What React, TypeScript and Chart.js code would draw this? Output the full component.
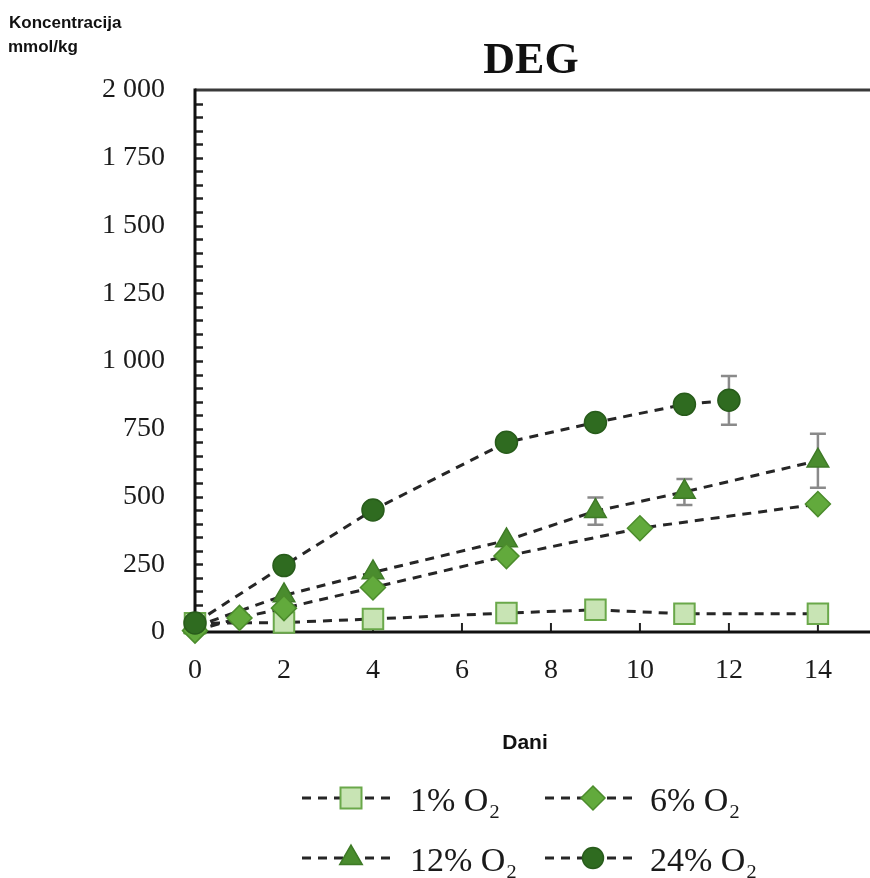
import React, { useEffect, useRef } from 'react';
import { Chart, registerables } from 'chart.js';

Chart.register(...registerables);

// ---- data ----
const chartTitle = 'DEG';
const yTitleLines = ['Koncentracija', 'mmol/kg'];
const xTitle = 'Dani';
const seriesLabels = ['1% O₂', '6% O₂', '12% O₂', '24% O₂'];

const days1 = [0, 2, 4, 7, 9, 11, 14];
const o2_1 = [32, 35, 48, 70, 82, 67, 67];

const days6 = [0, 1, 2, 4, 7, 10, 14];
const o2_6 = [5, 52, 88, 164, 280, 383, 472];

const days12 = [0, 2, 4, 7, 9, 11, 14];
const o2_12 = [20, 135, 220, 338, 446, 517, 632];
const err12 = [0, 0, 0, 0, 50, 48, 100];

const days24 = [0, 2, 4, 7, 9, 11, 12];
const o2_24 = [33, 245, 450, 700, 773, 840, 855];
const err24 = [0, 0, 0, 0, 0, 0, 90];

const xTicks = [0, 2, 4, 6, 8, 10, 12, 14];
const yTicks = [0, 250, 500, 750, 1000, 1250, 1500, 1750, 2000];

// ---- styles ----
const SERIF = "'Liberation Serif', 'Times New Roman', serif";
const SANS = "'Liberation Sans', Arial, sans-serif";

const markerStyles = [
  { pointStyle: 'rect', radius: 14.5, bg: '#c8e4b4', border: '#6aa84a', bw: 2, order: 3 },
  { pointStyle: 'rectRot', radius: 12.5, bg: '#62aa3c', border: '#4c8c2c', bw: 1.5, order: 1 },
  { pointStyle: 'triangle', radius: 12.5, bg: '#4a8c2e', border: '#3e7a26', bw: 1.5, order: 2 },
  { pointStyle: 'circle', radius: 11, bg: '#2f6b20', border: '#285c1b', bw: 1.5, order: 0 },
];

const zip = (xs: number[], ys: number[]) => xs.map((x, i) => ({ x, y: ys[i] }));

function makeDataset(i: number, xs: number[], ys: number[], errs?: number[]) {
  const m = markerStyles[i];
  return {
    label: seriesLabels[i],
    data: zip(xs, ys),
    errors: errs,
    order: m.order,
    showLine: true,
    borderColor: '#262626',
    borderWidth: 3,
    borderDash: [9, 7],
    pointStyle: m.pointStyle,
    pointRadius: m.radius,
    pointBackgroundColor: m.bg,
    pointBorderColor: m.border,
    pointBorderWidth: m.bw,
    clip: false as any,
    tension: 0,
  };
}

function drawMarker(ctx: CanvasRenderingContext2D, i: number, x: number, y: number) {
  const m = markerStyles[i];
  ctx.save();
  ctx.fillStyle = m.bg;
  ctx.strokeStyle = m.border;
  ctx.lineWidth = m.bw;
  ctx.setLineDash([]);
  ctx.beginPath();
  if (m.pointStyle === 'rect') {
    const s = 10.5;
    ctx.rect(x - s, y - s, 2 * s, 2 * s);
  } else if (m.pointStyle === 'rectRot') {
    const r = 12;
    ctx.moveTo(x, y - r);
    ctx.lineTo(x + r, y);
    ctx.lineTo(x, y + r);
    ctx.lineTo(x - r, y);
    ctx.closePath();
  } else if (m.pointStyle === 'triangle') {
    const r = 13;
    ctx.moveTo(x, y - r);
    ctx.lineTo(x + r * 0.866, y + r * 0.5);
    ctx.lineTo(x - r * 0.866, y + r * 0.5);
    ctx.closePath();
  } else {
    ctx.arc(x, y, 10.5, 0, Math.PI * 2);
  }
  ctx.fill();
  ctx.stroke();
  ctx.restore();
}

const framePlugin = {
  id: 'frame',
  beforeDatasetsDraw(chart: any) {
    const { ctx, chartArea, scales, width } = chart;
    const { left, top, bottom } = chartArea;
    const x = scales.x;
    const y = scales.y;
    ctx.save();
    ctx.setLineDash([]);
    // minor y ticks (inside)
    ctx.strokeStyle = '#222';
    ctx.lineWidth = 2.5;
    for (let v = 50; v < 2000; v += 50) {
      const py = Math.round(y.getPixelForValue(v)) + 0.5;
      ctx.beginPath();
      ctx.moveTo(left, py);
      ctx.lineTo(left + 8, py);
      ctx.stroke();
    }
    // x ticks (inside)
    ctx.lineWidth = 2;
    for (const t of xTicks) {
      if (t === 0) continue;
      const px = x.getPixelForValue(t);
      ctx.beginPath();
      ctx.moveTo(px, bottom);
      ctx.lineTo(px, bottom - 9);
      ctx.stroke();
    }
    // top border
    ctx.strokeStyle = '#3a3a3a';
    ctx.lineWidth = 3;
    ctx.beginPath();
    ctx.moveTo(left, top);
    ctx.lineTo(width, top);
    ctx.stroke();
    // left axis
    ctx.strokeStyle = '#111';
    ctx.beginPath();
    ctx.moveTo(left, top - 1.5);
    ctx.lineTo(left, bottom + 1.5);
    ctx.stroke();
    // bottom axis
    ctx.beginPath();
    ctx.moveTo(left, bottom);
    ctx.lineTo(width, bottom);
    ctx.stroke();

    // error bars
    ctx.strokeStyle = '#8a8a8a';
    ctx.lineWidth = 2.5;
    chart.data.datasets.forEach((ds: any) => {
      if (!ds.errors) return;
      ds.data.forEach((p: any, j: number) => {
        const e = ds.errors[j];
        if (!e) return;
        const px = x.getPixelForValue(p.x);
        const y1 = y.getPixelForValue(p.y + e);
        const y2 = y.getPixelForValue(p.y - e);
        ctx.beginPath();
        ctx.moveTo(px, y1);
        ctx.lineTo(px, y2);
        ctx.moveTo(px - 8, y1);
        ctx.lineTo(px + 8, y1);
        ctx.moveTo(px - 8, y2);
        ctx.lineTo(px + 8, y2);
        ctx.stroke();
      });
    });
    ctx.restore();
  },
  afterDraw(chart: any) {
    const { ctx } = chart;
    ctx.save();
    ctx.setLineDash([]);
    ctx.fillStyle = '#111';
    // title
    ctx.font = `bold 44px ${SERIF}`;
    ctx.textAlign = 'center';
    ctx.textBaseline = 'alphabetic';
    ctx.fillText(chartTitle, 531, 73);
    // y title
    ctx.font = `bold 17px ${SANS}`;
    ctx.textAlign = 'left';
    ctx.fillText(yTitleLines[0], 9, 28);
    ctx.fillText(yTitleLines[1], 8, 52);
    // x title
    ctx.font = `bold 21px ${SANS}`;
    ctx.textAlign = 'center';
    ctx.fillText(xTitle, 525, 749);

    // legend
    const cols = [
      { d0: 302, mx: 351, d1: 391, tx: 410 },
      { d0: 545, mx: 593, d1: 634, tx: 650 },
    ];
    const rows = [798, 858];
    for (let i = 0; i < 4; i++) {
      const c = cols[i % 2];
      const ry = rows[Math.floor(i / 2)];
      ctx.strokeStyle = '#262626';
      ctx.lineWidth = 3;
      ctx.setLineDash([9, 7]);
      ctx.beginPath();
      ctx.moveTo(c.d0, ry);
      ctx.lineTo(c.mx - 8, ry);
      ctx.stroke();
      ctx.beginPath();
      ctx.moveTo(c.mx + 14, ry);
      ctx.lineTo(c.d1, ry);
      ctx.stroke();
      ctx.setLineDash([]);
      drawMarker(ctx, i, c.mx, ry);
      ctx.fillStyle = '#1a1a1a';
      ctx.font = `34px ${SERIF}`;
      ctx.textAlign = 'left';
      ctx.textBaseline = 'alphabetic';
      ctx.fillText(seriesLabels[i], c.tx, ry + 13);
    }
    ctx.restore();
  },
};

const fmtY = (v: number) =>
  v >= 1000 ? `${Math.floor(v / 1000)} ${String(v % 1000).padStart(3, '0')}` : String(v);

export default function App() {
  const ref = useRef<HTMLCanvasElement>(null);
  useEffect(() => {
    if (!ref.current) return;
    const chart = new Chart(ref.current, {
      type: 'scatter',
      data: {
        datasets: [
          makeDataset(0, days1, o2_1),
          makeDataset(1, days6, o2_6),
          makeDataset(2, days12, o2_12, err12),
          makeDataset(3, days24, o2_24, err24),
        ] as any,
      },
      options: {
        responsive: true,
        maintainAspectRatio: false,
        animation: false,
        layout: { padding: { top: 90, left: 0, right: 1, bottom: 186 } },
        plugins: {
          legend: { display: false },
          title: { display: false },
          tooltip: { enabled: false },
        },
        scales: {
          x: {
            type: 'linear',
            min: 0,
            max: 14.8,
            grid: { display: false, drawTicks: false },
            border: { display: false },
            afterBuildTicks: (s: any) => {
              s.ticks = xTicks.map((v) => ({ value: v }));
            },
            afterFit: (s: any) => {
              s.height = 60;
            },
            ticks: {
              padding: 22,
              color: '#1a1a1a',
              font: { family: SERIF, size: 28 },
              callback: (v: any) => String(v),
            },
          },
          y: {
            type: 'linear',
            min: 0,
            max: 2000,
            grid: { display: false, drawTicks: false },
            border: { display: false },
            afterBuildTicks: (s: any) => {
              s.ticks = yTicks.map((v) => ({ value: v }));
            },
            afterFit: (s: any) => {
              s.width = 195;
            },
            ticks: {
              padding: 30,
              color: '#1a1a1a',
              font: { family: SERIF, size: 28 },
              callback: (v: any) => fmtY(Number(v)),
            },
          },
        },
      },
      plugins: [framePlugin],
    });
    return () => chart.destroy();
  }, []);
  return (
    <div style={{ position: 'fixed', left: 0, top: 0, width: 870, height: 878, background: '#fff' }}>
      <canvas ref={ref} />
    </div>
  );
}
